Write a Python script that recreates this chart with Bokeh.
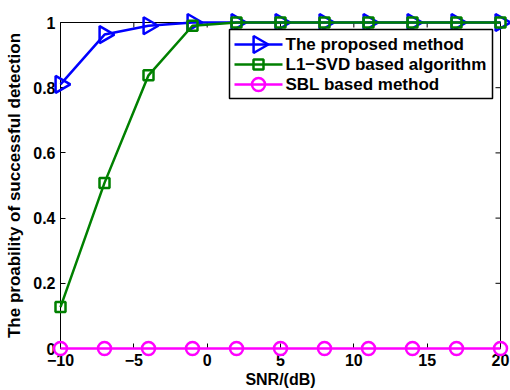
from bokeh.plotting import figure
from bokeh.models import Range1d, LinearAxis, FixedTicker
from bokeh.core.properties import value
from bokeh.embed import file_html
from bokeh.resources import INLINE
import math

snr = [-10, -7, -4, -1, 2, 5, 8, 11, 14, 17, 20]
proposed = [0.81, 0.963, 0.99, 1.0, 1.0, 1.0, 1.0, 1.0, 1.0, 1.0, 1.0]
l1svd = [0.127, 0.508, 0.838, 0.99, 1.0, 1.0, 1.0, 1.0, 1.0, 1.0, 1.0]
sbl = [0, 0, 0, 0, 0, 0, 0, 0, 0, 0, 0]

series_names = ["The proposed method", "L1\u2212SVD based algorithm", "SBL based method"]

x_ticks = [-10, -5, 0, 5, 10, 15, 20]
x_tick_labels = ["\u221210", "\u22125", "0", "5", "10", "15", "20"]
y_ticks = [0, 0.2, 0.4, 0.6, 0.8, 1]
y_tick_labels = ["0", "0.2", "0.4", "0.6", "0.8", "1"]

FONT = "Liberation Sans"

# layout (pixels)
W, H = 510, 390
BOX_L, BOX_R, BOX_T, BOX_B = 60, 500, 22, 348
TICK = 5
xmin, xmax = x_ticks[0], x_ticks[-1]
ymin, ymax = y_ticks[0], y_ticks[-1]
xs = (xmax - xmin) / (BOX_R - BOX_L)
ys = (ymax - ymin) / (BOX_B - BOX_T)
x_range = Range1d(xmin - BOX_L * xs, xmax + (W - BOX_R) * xs)
y_range = Range1d(ymin - (H - BOX_B) * ys, ymax + BOX_T * ys)


def sx2d(px):
    return x_range.start + px * xs


def sy2d(py):
    return y_range.end - py * ys


p = figure(width=W, height=H, x_range=x_range, y_range=y_range,
           x_axis_type=None, y_axis_type=None,
           output_backend="svg", toolbar_location=None, min_border=0)
p.xgrid.visible = False
p.ygrid.visible = False
p.outline_line_color = None
p.background_fill_color = "white"
p.border_fill_color = "white"


def style_axis(ax, ticks, labels):
    ax.ticker = FixedTicker(ticks=ticks)
    ax.major_label_overrides = {t: l for t, l in zip(ticks, labels)}
    ax.major_tick_in = TICK
    ax.major_tick_out = 0
    ax.minor_tick_in = 0
    ax.minor_tick_out = 0
    ax.axis_line_color = "black"
    ax.axis_line_width = 1
    ax.major_tick_line_color = "black"
    ax.major_label_text_font = FONT
    ax.major_label_text_font_style = "bold"
    ax.major_label_text_font_size = "16px"
    ax.major_label_text_color = "black"
    ax.major_label_standoff = 5
    ax.axis_label_text_font = FONT
    ax.axis_label_text_font_style = "bold"
    ax.axis_label_text_color = "black"


xa = LinearAxis(fixed_location=ymin, bounds=(xmin, xmax))
style_axis(xa, x_ticks, x_tick_labels)
xa.axis_label = "SNR/(dB)"
xa.axis_label_text_font_size = "16px"
xa.axis_label_standoff = 2
p.add_layout(xa, "below")

ya = LinearAxis(fixed_location=xmin, bounds=(ymin, ymax))
style_axis(ya, y_ticks, y_tick_labels)
ya.axis_label = "The proability of successful detection"
ya.axis_label_text_font_size = "17px"
ya.axis_label_standoff = 6
p.add_layout(ya, "left")

# top and right box edges with inward ticks
p.segment(x0=[xmin, xmax], y0=[ymax, ymin], x1=[xmax, xmax], y1=[ymax, ymax],
          line_color="black", line_width=1)
p.segment(x0=x_ticks, y0=[ymax] * len(x_ticks), x1=x_ticks,
          y1=[ymax - TICK * ys] * len(x_ticks), line_color="black", line_width=1)
p.segment(x0=[xmax] * len(y_ticks), y0=y_ticks, x1=[xmax - TICK * xs] * len(y_ticks),
          y1=y_ticks, line_color="black", line_width=1)

LW = 2.5
styles = [
    ("#0000FF", dict(marker="triangle", angle=-math.pi / 2, size=17)),
    ("#008000", dict(marker="square", size=10)),
    ("#FF00FF", dict(marker="circle", size=13)),
]
values = [proposed, l1svd, sbl]

for vals, (col, mk) in zip(values, styles):
    p.line(snr, vals, line_color=col, line_width=LW, level="overlay")
    p.scatter(snr, vals, fill_color=None, line_color=col, line_width=LW, level="overlay", **mk)

# legend box (pixels)
LEG_L, LEG_T, LEG_R, LEG_B = 229, 29, 492, 98
PAD, GW, GH, STAND = 5, 48, 20, 3
p.quad(left=sx2d(LEG_L), right=sx2d(LEG_R), top=sy2d(LEG_T), bottom=sy2d(LEG_B),
       fill_color="white", line_color="black", line_width=1.5, level="overlay")
for i, (name, (col, mk)) in enumerate(zip(series_names, styles)):
    cy = sy2d(LEG_T + PAD + GH * i + GH / 2)
    gx0 = sx2d(LEG_L + PAD)
    gx1 = sx2d(LEG_L + PAD + GW)
    p.line([gx0, gx1], [cy, cy], line_color=col, line_width=LW, level="overlay")
    p.scatter([(gx0 + gx1) / 2], [cy], fill_color=None, line_color=col,
              line_width=LW, level="overlay", **mk)
    p.text(x=[sx2d(LEG_L + PAD + GW + STAND)], y=[cy], text=[name],
           text_font=value(FONT), text_font_style="bold", text_font_size="17px",
           text_color="black", text_baseline="middle", text_align="left", level="overlay")

open("out.html", "w").write(file_html(p, INLINE))
